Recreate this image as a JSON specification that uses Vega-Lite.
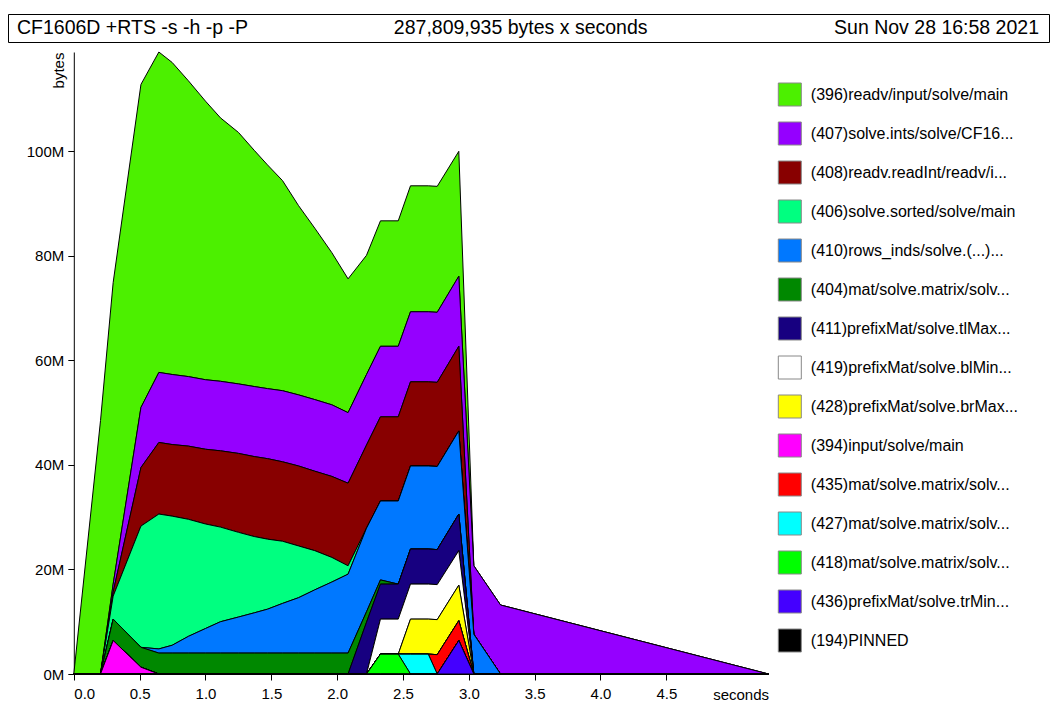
{
  "$schema": "https://vega.github.io/schema/vega-lite/v6.json",
  "padding": {"left": 7, "top": 13, "right": 0, "bottom": 0},
  "bounds": "flush",
  "spacing": 10,
  "config": {
    "font": "Liberation Sans",
    "view": {"stroke": null},
    "axis": {"domainColor": "black", "tickColor": "black", "labelColor": "black", "titleColor": "black", "grid": false, "labelFontSize": 15, "titleFontSize": 15, "titleFontWeight": "normal"},
    "text": {"color": "black"}
  },
  "datasets": {
    "series": [
      {"s": "396", "rank": 15, "name": "(396)readv/input/solve/main"},
      {"s": "407", "rank": 14, "name": "(407)solve.ints/solve/CF16..."},
      {"s": "408", "rank": 13, "name": "(408)readv.readInt/readv/i..."},
      {"s": "406", "rank": 12, "name": "(406)solve.sorted/solve/main"},
      {"s": "410", "rank": 11, "name": "(410)rows_inds/solve.(...)..."},
      {"s": "404", "rank": 10, "name": "(404)mat/solve.matrix/solv..."},
      {"s": "411", "rank": 9, "name": "(411)prefixMat/solve.tlMax..."},
      {"s": "419", "rank": 8, "name": "(419)prefixMat/solve.blMin..."},
      {"s": "428", "rank": 7, "name": "(428)prefixMat/solve.brMax..."},
      {"s": "394", "rank": 6, "name": "(394)input/solve/main"},
      {"s": "435", "rank": 5, "name": "(435)mat/solve.matrix/solv..."},
      {"s": "427", "rank": 4, "name": "(427)mat/solve.matrix/solv... "},
      {"s": "418", "rank": 3, "name": "(418)mat/solve.matrix/solv...  "},
      {"s": "436", "rank": 2, "name": "(436)prefixMat/solve.trMin..."},
      {"s": "194", "rank": 1, "name": "(194)PINNED"}
    ],
    "heap": [
      {"t": 0, "s": "396", "v": 0},
      {"t": 0.203, "s": "396", "v": 48.5},
      {"t": 0.299, "s": "396", "v": 57.7},
      {"t": 0.51, "s": "396", "v": 61.8},
      {"t": 0.646, "s": "396", "v": 61.3},
      {"t": 0.747, "s": "396", "v": 59.7},
      {"t": 0.87, "s": "396", "v": 56.6},
      {"t": 1.0, "s": "396", "v": 53.3},
      {"t": 1.114, "s": "396", "v": 50.4},
      {"t": 1.251, "s": "396", "v": 48.1},
      {"t": 1.37, "s": "396", "v": 45.2},
      {"t": 1.471, "s": "396", "v": 42.8},
      {"t": 1.585, "s": "396", "v": 40.2},
      {"t": 1.707, "s": "396", "v": 36.2},
      {"t": 1.83, "s": "396", "v": 32.8},
      {"t": 1.96, "s": "396", "v": 29.1},
      {"t": 2.083, "s": "396", "v": 25.6},
      {"t": 2.223, "s": "396", "v": 22.8},
      {"t": 2.329, "s": "396", "v": 24.0},
      {"t": 2.464, "s": "396", "v": 24.0},
      {"t": 2.557, "s": "396", "v": 24.1},
      {"t": 2.692, "s": "396", "v": 24.1},
      {"t": 2.76, "s": "396", "v": 24.1},
      {"t": 2.924, "s": "396", "v": 23.9},
      {"t": 3.038, "s": "396", "v": 0},

      {"t": 0.203, "s": "407", "v": 0},
      {"t": 0.299, "s": "407", "v": 1.5},
      {"t": 0.51, "s": "407", "v": 11.5},
      {"t": 0.646, "s": "407", "v": 13.4},
      {"t": 0.747, "s": "407", "v": 13.4},
      {"t": 0.87, "s": "407", "v": 13.3},
      {"t": 1.0, "s": "407", "v": 13.3},
      {"t": 1.114, "s": "407", "v": 13.3},
      {"t": 1.251, "s": "407", "v": 13.3},
      {"t": 1.37, "s": "407", "v": 13.4},
      {"t": 1.471, "s": "407", "v": 13.4},
      {"t": 1.585, "s": "407", "v": 13.6},
      {"t": 1.707, "s": "407", "v": 13.6},
      {"t": 1.83, "s": "407", "v": 13.7},
      {"t": 1.96, "s": "407", "v": 13.7},
      {"t": 2.083, "s": "407", "v": 13.5},
      {"t": 2.223, "s": "407", "v": 13.5},
      {"t": 2.329, "s": "407", "v": 13.5},
      {"t": 2.464, "s": "407", "v": 13.5},
      {"t": 2.557, "s": "407", "v": 13.4},
      {"t": 2.692, "s": "407", "v": 13.4},
      {"t": 2.76, "s": "407", "v": 13.4},
      {"t": 2.924, "s": "407", "v": 13.4},
      {"t": 3.038, "s": "407", "v": 13.1},
      {"t": 3.241, "s": "407", "v": 13.2},
      {"t": 5.276, "s": "407", "v": 0},

      {"t": 0.203, "s": "408", "v": 0},
      {"t": 0.299, "s": "408", "v": 0.8},
      {"t": 0.51, "s": "408", "v": 11.2},
      {"t": 0.646, "s": "408", "v": 13.7},
      {"t": 0.747, "s": "408", "v": 13.7},
      {"t": 0.87, "s": "408", "v": 14.0},
      {"t": 1.0, "s": "408", "v": 14.3},
      {"t": 1.114, "s": "408", "v": 14.6},
      {"t": 1.251, "s": "408", "v": 15.1},
      {"t": 1.37, "s": "408", "v": 15.3},
      {"t": 1.471, "s": "408", "v": 15.4},
      {"t": 1.585, "s": "408", "v": 15.2},
      {"t": 1.707, "s": "408", "v": 15.3},
      {"t": 1.83, "s": "408", "v": 15.2},
      {"t": 1.96, "s": "408", "v": 15.5},
      {"t": 2.083, "s": "408", "v": 15.8},
      {"t": 2.223, "s": "408", "v": 15.9},
      {"t": 2.329, "s": "408", "v": 16.1},
      {"t": 2.464, "s": "408", "v": 16.1},
      {"t": 2.557, "s": "408", "v": 16.1},
      {"t": 2.692, "s": "408", "v": 16.1},
      {"t": 2.76, "s": "408", "v": 16.1},
      {"t": 2.924, "s": "408", "v": 16.2},
      {"t": 3.038, "s": "408", "v": 0},

      {"t": 0.203, "s": "406", "v": 0},
      {"t": 0.299, "s": "406", "v": 4.4},
      {"t": 0.51, "s": "406", "v": 23.2},
      {"t": 0.646, "s": "406", "v": 25.8},
      {"t": 0.747, "s": "406", "v": 24.7},
      {"t": 0.87, "s": "406", "v": 22.4},
      {"t": 1.0, "s": "406", "v": 20.0},
      {"t": 1.114, "s": "406", "v": 18.1},
      {"t": 1.251, "s": "406", "v": 16.2},
      {"t": 1.37, "s": "406", "v": 14.6},
      {"t": 1.471, "s": "406", "v": 13.4},
      {"t": 1.585, "s": "406", "v": 11.9},
      {"t": 1.707, "s": "406", "v": 9.9},
      {"t": 1.83, "s": "406", "v": 7.5},
      {"t": 1.96, "s": "406", "v": 4.7},
      {"t": 2.083, "s": "406", "v": 1.6},
      {"t": 2.223, "s": "406", "v": 0},

      {"t": 0.51, "s": "410", "v": 0},
      {"t": 0.646, "s": "410", "v": 0.8},
      {"t": 0.747, "s": "410", "v": 1.5},
      {"t": 0.87, "s": "410", "v": 3.2},
      {"t": 1.0, "s": "410", "v": 4.7},
      {"t": 1.114, "s": "410", "v": 6.0},
      {"t": 1.251, "s": "410", "v": 6.9},
      {"t": 1.37, "s": "410", "v": 7.7},
      {"t": 1.471, "s": "410", "v": 8.4},
      {"t": 1.585, "s": "410", "v": 9.5},
      {"t": 1.707, "s": "410", "v": 10.6},
      {"t": 1.83, "s": "410", "v": 12.1},
      {"t": 1.96, "s": "410", "v": 13.6},
      {"t": 2.083, "s": "410", "v": 15.1},
      {"t": 2.223, "s": "410", "v": 16.0},
      {"t": 2.329, "s": "410", "v": 15.1},
      {"t": 2.464, "s": "410", "v": 15.9},
      {"t": 2.557, "s": "410", "v": 15.9},
      {"t": 2.692, "s": "410", "v": 15.9},
      {"t": 2.76, "s": "410", "v": 15.9},
      {"t": 2.924, "s": "410", "v": 15.9},
      {"t": 3.038, "s": "410", "v": 7.6},
      {"t": 3.241, "s": "410", "v": 0},

      {"t": 0.203, "s": "404", "v": 0},
      {"t": 0.299, "s": "404", "v": 4.1},
      {"t": 0.51, "s": "404", "v": 3.8},
      {"t": 0.646, "s": "404", "v": 4.0},
      {"t": 0.747, "s": "404", "v": 4.0},
      {"t": 0.87, "s": "404", "v": 4.0},
      {"t": 1.0, "s": "404", "v": 4.0},
      {"t": 1.114, "s": "404", "v": 4.0},
      {"t": 1.251, "s": "404", "v": 4.0},
      {"t": 1.37, "s": "404", "v": 4.0},
      {"t": 1.471, "s": "404", "v": 4.0},
      {"t": 1.585, "s": "404", "v": 4.0},
      {"t": 1.707, "s": "404", "v": 4.0},
      {"t": 1.83, "s": "404", "v": 4.0},
      {"t": 1.96, "s": "404", "v": 4.0},
      {"t": 2.083, "s": "404", "v": 4.0},
      {"t": 2.223, "s": "404", "v": 2.0},
      {"t": 2.329, "s": "404", "v": 0.8},
      {"t": 2.464, "s": "404", "v": 0},

      {"t": 2.083, "s": "411", "v": 0},
      {"t": 2.223, "s": "411", "v": 9.9},
      {"t": 2.329, "s": "411", "v": 6.7},
      {"t": 2.464, "s": "411", "v": 6.7},
      {"t": 2.557, "s": "411", "v": 6.7},
      {"t": 2.692, "s": "411", "v": 6.7},
      {"t": 2.76, "s": "411", "v": 6.7},
      {"t": 2.924, "s": "411", "v": 7.0},
      {"t": 3.038, "s": "411", "v": 0},

      {"t": 2.223, "s": "419", "v": 0},
      {"t": 2.329, "s": "419", "v": 6.7},
      {"t": 2.464, "s": "419", "v": 6.7},
      {"t": 2.557, "s": "419", "v": 6.7},
      {"t": 2.692, "s": "419", "v": 6.7},
      {"t": 2.76, "s": "419", "v": 6.7},
      {"t": 2.924, "s": "419", "v": 6.6},
      {"t": 3.038, "s": "419", "v": 0},

      {"t": 2.464, "s": "428", "v": 0},
      {"t": 2.557, "s": "428", "v": 6.7},
      {"t": 2.692, "s": "428", "v": 6.7},
      {"t": 2.76, "s": "428", "v": 6.7},
      {"t": 2.924, "s": "428", "v": 6.8},
      {"t": 3.038, "s": "428", "v": 0},

      {"t": 0.203, "s": "394", "v": 0},
      {"t": 0.299, "s": "394", "v": 6.4},
      {"t": 0.51, "s": "394", "v": 1.3},
      {"t": 0.646, "s": "394", "v": 0},

      {"t": 2.692, "s": "435", "v": 0},
      {"t": 2.76, "s": "435", "v": 3.7},
      {"t": 2.924, "s": "435", "v": 3.8},
      {"t": 3.038, "s": "435", "v": 0},

      {"t": 2.464, "s": "427", "v": 0},
      {"t": 2.557, "s": "427", "v": 3.8},
      {"t": 2.692, "s": "427", "v": 3.8},
      {"t": 2.76, "s": "427", "v": 0},

      {"t": 2.223, "s": "418", "v": 0},
      {"t": 2.329, "s": "418", "v": 3.8},
      {"t": 2.464, "s": "418", "v": 3.8},
      {"t": 2.557, "s": "418", "v": 0},

      {"t": 2.76, "s": "436", "v": 0},
      {"t": 2.924, "s": "436", "v": 6.4},
      {"t": 3.038, "s": "436", "v": 0}
    ]
  },
  "vconcat": [
    {
      "width": 1041,
      "height": 28,
      "view": {"stroke": "black", "strokeWidth": 1},
      "data": {"values": [
        {"part": "command", "label": "CF1606D +RTS -s -h -p -P"},
        {"part": "total", "label": "287,809,935 bytes x seconds"},
        {"part": "date", "label": "Sun Nov 28 16:58 2021"}
      ]},
      "layer": [
        {
          "transform": [{"filter": "datum.part === 'command'"}],
          "mark": {"type": "text", "align": "left", "dx": 9, "fontSize": 19.5},
          "encoding": {
            "x": {"datum": 0, "type": "quantitative", "scale": {"domain": [0, 1]}, "axis": null},
            "text": {"field": "label"}
          }
        },
        {
          "transform": [{"filter": "datum.part === 'total'"}],
          "mark": {"type": "text", "align": "center", "fontSize": 19.5},
          "encoding": {
            "x": {"datum": 0.4925, "type": "quantitative", "scale": {"domain": [0, 1]}, "axis": null},
            "text": {"field": "label"}
          }
        },
        {
          "transform": [{"filter": "datum.part === 'date'"}],
          "mark": {"type": "text", "align": "right", "dx": -10, "fontSize": 19.5},
          "encoding": {
            "x": {"datum": 1, "type": "quantitative", "scale": {"domain": [0, 1]}, "axis": null},
            "text": {"field": "label"}
          }
        }
      ]
    },
    {
      "width": 1041,
      "height": 622,
      "data": {"name": "heap"},
      "transform": [
        {"lookup": "s", "from": {"data": {"name": "series"}, "key": "s", "fields": ["name", "rank"]}}
      ],
      "mark": {"type": "area", "stroke": "black", "strokeWidth": 1, "opacity": 1},
      "encoding": {
        "x": {
          "field": "t", "type": "quantitative",
          "scale": {"domain": [0, 5.276], "range": [65.8, 760.5], "nice": false, "zero": false},
          "axis": {
            "values": [0, 0.5, 1, 1.5, 2, 2.5, 3, 3.5, 4, 4.5],
            "format": ".1f", "tickSize": 6, "labelPadding": 6,
            "title": "seconds", "titleX": 760.5, "titleY": 25,
            "titleAlign": "right", "titleBaseline": "alphabetic"
          }
        },
        "y": {
          "field": "v", "type": "quantitative", "stack": "zero",
          "scale": {"domain": [0, 119], "nice": false},
          "axis": {
            "values": [0, 20, 40, 60, 80, 100],
            "labelExpr": "datum.value + 'M'",
            "offset": -65.8, "tickSize": 6, "labelPadding": 4,
            "title": "bytes", "titleX": -15, "titleY": 18, "titleAngle": -90,
            "titleAlign": "center", "titleBaseline": "middle"
          }
        },
        "color": {
          "field": "name", "type": "nominal",
          "scale": {
            "domain": [
              "(396)readv/input/solve/main",
              "(407)solve.ints/solve/CF16...",
              "(408)readv.readInt/readv/i...",
              "(406)solve.sorted/solve/main",
              "(410)rows_inds/solve.(...)...",
              "(404)mat/solve.matrix/solv...",
              "(411)prefixMat/solve.tlMax...",
              "(419)prefixMat/solve.blMin...",
              "(428)prefixMat/solve.brMax...",
              "(394)input/solve/main",
              "(435)mat/solve.matrix/solv...",
              "(427)mat/solve.matrix/solv... ",
              "(418)mat/solve.matrix/solv...  ",
              "(436)prefixMat/solve.trMin...",
              "(194)PINNED"
            ],
            "range": ["#4CF000", "#9500FF", "#880000", "#00FF80", "#0078FF", "#008800", "#170080", "#FFFFFF", "#FFFF00", "#FF00FF", "#FF0000", "#00FFFF", "#00FF00", "#4400FF", "#000000"]
          },
          "legend": {
            "orient": "none", "legendX": 769.8, "legendY": 68.5,
            "title": null, "direction": "vertical", "padding": 0,
            "symbolType": "square", "symbolSize": 529,
            "symbolStrokeColor": "#888888", "symbolStrokeWidth": 1,
            "labelFontSize": 16, "labelLimit": 400, "labelOffset": 9,
            "labelColor": "black", "rowPadding": 11
          }
        },
        "order": {"field": "rank", "type": "quantitative"}
      }
    }
  ]
}
